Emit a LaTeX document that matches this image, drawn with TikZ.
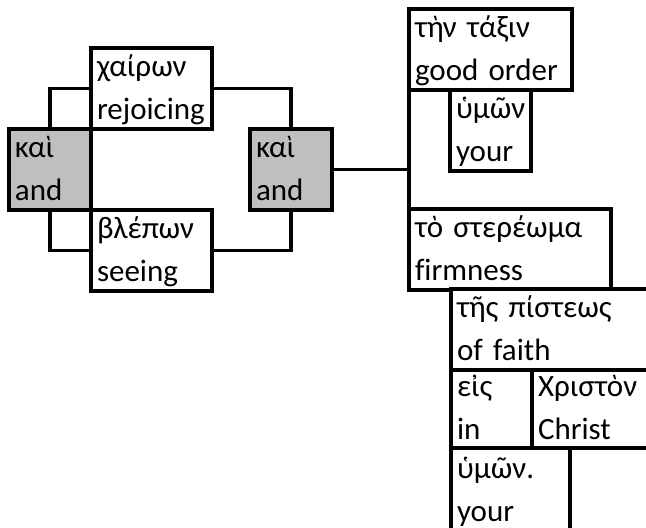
\documentclass[tikz,border=0pt]{standalone}
\usepackage{fontspec}
\setmainfont{Carlito}[Ligatures=CommonOff]
\newcommand{\tl}[2]{\rule{0pt}{26pt}#1\\#2\rule[-8pt]{0pt}{8pt}}
\begin{document}
\begin{tikzpicture}[x=1pt,y=-1pt,
  bx/.style={draw=black, fill=white, line width=3.6pt, outer sep=0pt, anchor=north west,
    inner xsep=6pt, inner ysep=0pt, minimum height=81pt, align=left,
    font=\fontsize{31}{43}\selectfont},
  andbox/.style={bx, fill=black!25},
  conn/.style={draw=black, line width=3.6pt}]
\useasboundingbox (0,0) rectangle (646,528);
\clip (0,0) rectangle (646,528);
% left coordination
\node[andbox, text width=70pt] (L) at (9,129) {\tl{καὶ}{and}};
\node[bx, text width=109pt] (C) at (91,48) {\tl{χαίρων}{rejoicing}};
\node[bx, text width=109pt] (B) at (91,210) {\tl{βλέπων}{seeing}};
\node[andbox, text width=70pt] (R) at (250,129) {\tl{καὶ}{and}};
% right part
\node[bx, text width=151pt] (T) at (409,9) {\tl{τὴν τάξιν}{good order}};
\node[bx, text width=69pt] (U) at (450,90) {\tl{ὑμῶν}{your}};
\node[bx, text width=190pt] (S) at (409,209) {\tl{τὸ στερέωμα}{firmness}};
\node[bx, text width=217pt] (P) at (451,289) {\tl{τῆς πίστεως}{of faith}};
\node[bx, text width=69pt, minimum height=78pt] (E) at (451,370) {\tl{εἰς}{in}};
\node[bx, text width=136pt, minimum height=78pt] (X) at (532,370) {\tl{Χριστὸν}{Christ}};
\node[bx, text width=107pt, minimum height=86pt] (Y) at (451,448) {\tl{ὑμῶν.}{your}};
% connectors
\draw[conn] (L.north) |- (C.west);
\draw[conn] (L.south) |- (B.west);
\draw[conn] (C.east) -| (R.north);
\draw[conn] (B.east) -| (R.south);
\draw[conn] (R.east) -- (R.east -| T.south west);
\draw[conn] (T.south west) -- (S.north west);
\end{tikzpicture}
\end{document}
